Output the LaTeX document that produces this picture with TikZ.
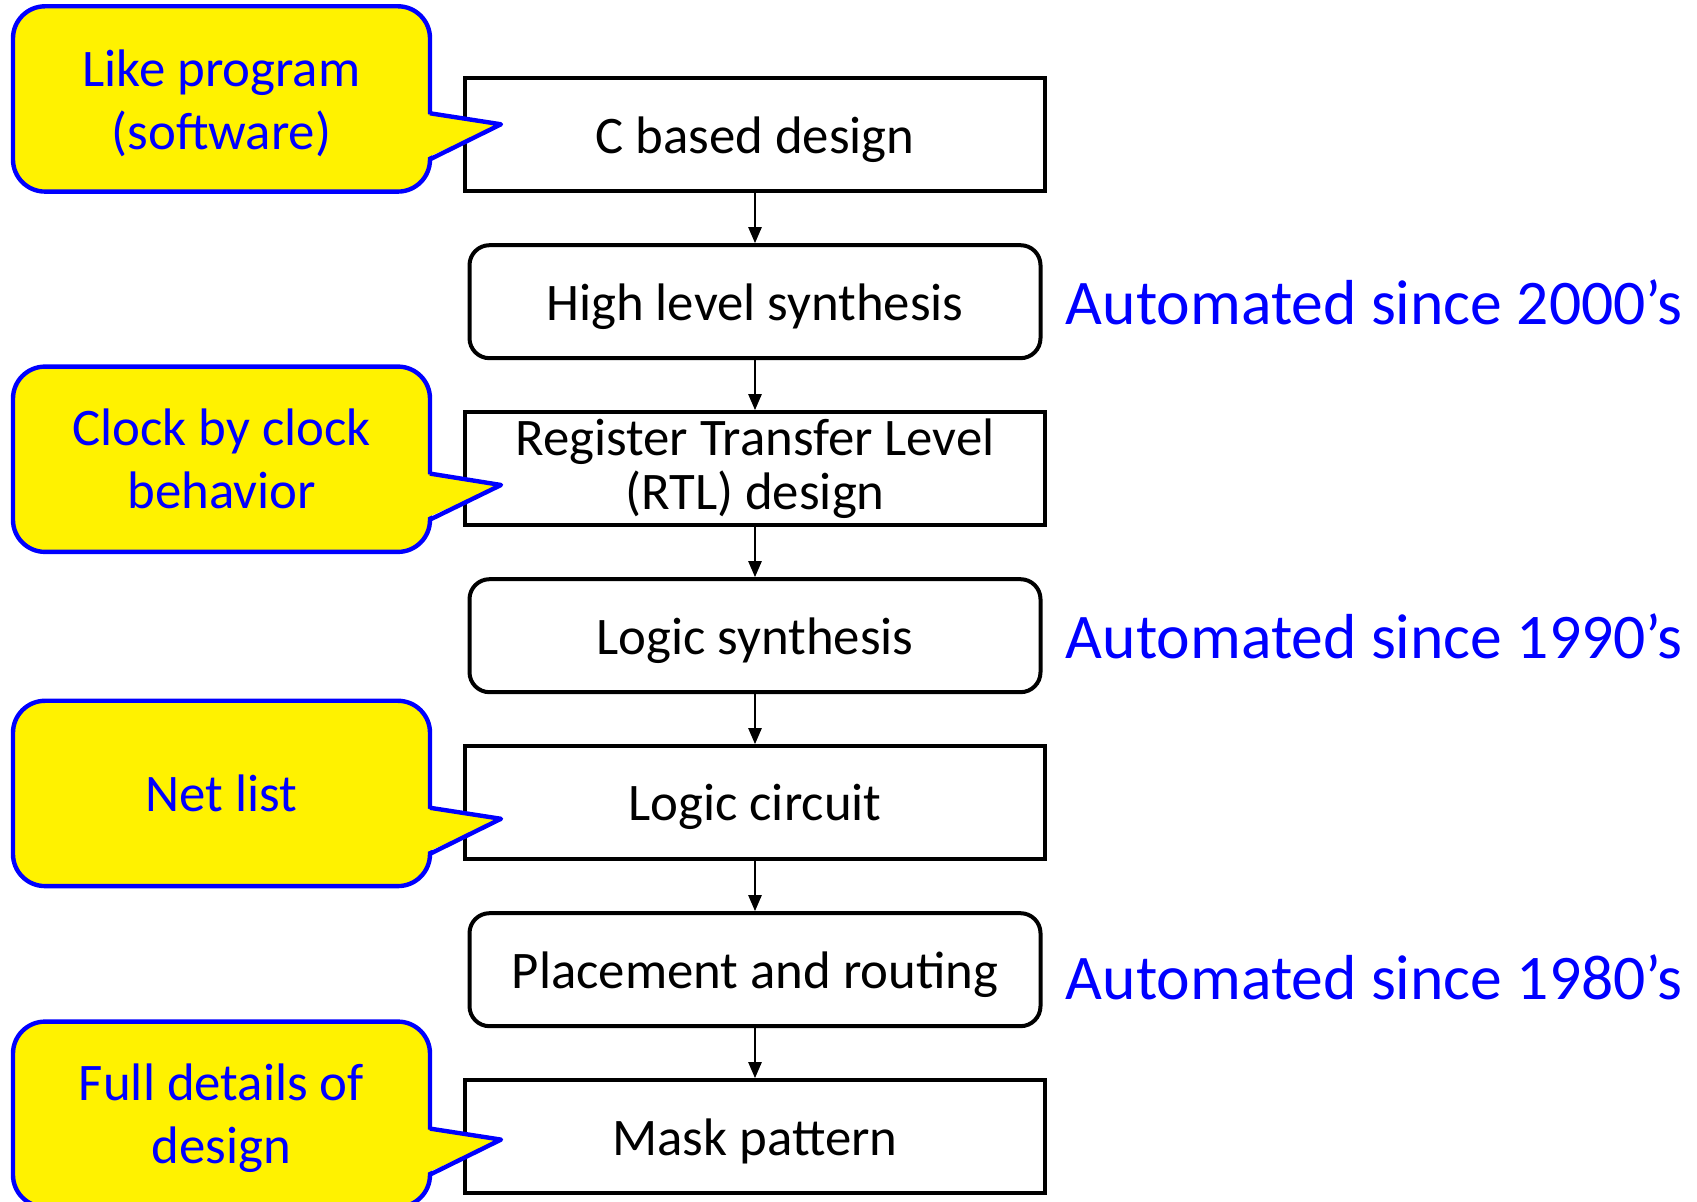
\documentclass[tikz,border=0pt]{standalone}
\usepackage{fontspec}
\setmainfont{Carlito}
\usetikzlibrary{positioning,arrows.meta}

\tikzset{
  sqbox/.style={draw, line width=2pt, rectangle, minimum width=290pt, minimum height=56.5pt, inner sep=0, align=center, text depth=0pt, font=\fontsize{26.4}{27}\selectfont},
  rdbox/.style={sqbox, rounded corners=10pt, minimum width=285.5pt},
  callout/.style={draw=blue, fill=yellow, line width=2.2pt, rounded corners=16pt},
  tip/.style={draw=blue, line width=2.2pt, line join=round},
  calltext/.style={text=blue, align=center, font=\fontsize{26.4}{31.5}\selectfont},
  autotext/.style={text=blue, inner sep=0, anchor=base west, font=\fontsize{31.8}{36}\selectfont},
  flow/.style={-{Triangle[length=8pt,width=6.5pt]}, line width=1.2pt},
}

\begin{document}
\begin{tikzpicture}[x=0.5pt, y=-0.5pt]
  \useasboundingbox (0,0) rectangle (1697,1202);

  % design flow
  \node[sqbox] (cdes) at (755,134.7) {C based design};
  \node[rdbox, below=25pt of cdes] (hls) {High level synthesis};
  \node[sqbox, text depth={}, below=25pt of hls] (rtl) {Register Transfer Level\\(RTL) design};
  \node[rdbox, below=25pt of rtl] (lsyn) {Logic synthesis};
  \node[sqbox, below=25pt of lsyn] (lcirc) {Logic circuit};
  \node[rdbox, below=25pt of lcirc] (pnr) {Placement and routing};
  \node[sqbox, below=25pt of pnr] (mask) {Mask pattern};

  \draw[flow] (cdes) -- (hls);
  \draw[flow] (hls) -- (rtl);
  \draw[flow] (rtl) -- (lsyn);
  \draw[flow] (lsyn) -- (lcirc);
  \draw[flow] (lcirc) -- (pnr);
  \draw[flow] (pnr) -- (mask);

  % automation notes
  \node[autotext] (auto2000) at ([xshift=11.5pt,yshift=-11.5pt]hls.east) {Automated since 2000’s};
  \node[autotext] (auto1990) at ([xshift=11.5pt,yshift=-11.5pt]lsyn.east) {Automated since 1990’s};
  \node[autotext] (auto1980) at ([xshift=11.5pt,yshift=-15pt]pnr.east) {Automated since 1980’s};

  % callouts
  \draw[callout] (13,6.3) rectangle (430,191.6);
  \fill[yellow] (426,114) -- (501,124.3) -- (426,158) -- cycle;
  \draw[tip] (430,113.3) -- (501,124.3) -- (430,159.3);
  \node[calltext] (like) at (221.5,103) {Like program\\(software)};

  \draw[callout] (13,366.6) rectangle (430,551.9);
  \fill[yellow] (426,474) -- (501,485) -- (426,518) -- cycle;
  \draw[tip] (430,473.6) -- (501,485) -- (430,519.6);
  \node[calltext] (clock) at (221.5,459.2) {Clock by clock\\behavior};

  \draw[callout] (13,700.8) rectangle (430,886.1);
  \fill[yellow] (426,808.5) -- (501,818.8) -- (426,852.5) -- cycle;
  \draw[tip] (430,807.8) -- (501,818.8) -- (430,853.8);
  \node[calltext] (netlist) at (221.5,793.4) {Net list};

  \draw[callout] (13,1021.6) rectangle (430,1206.9);
  \fill[yellow] (426,1129.3) -- (501,1139.6) -- (426,1173.3) -- cycle;
  \draw[tip] (430,1128.6) -- (501,1139.6) -- (430,1174.6);
  \node[calltext] (details) at (221.5,1118.5) {Full details of\\design};
\end{tikzpicture}
\end{document}
